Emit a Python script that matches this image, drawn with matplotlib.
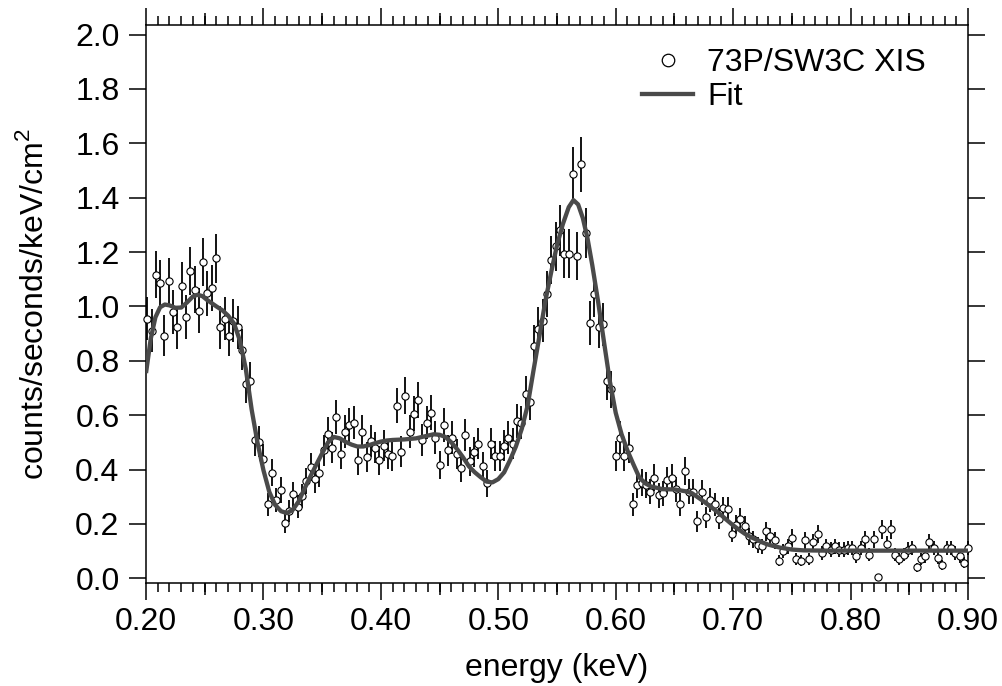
import matplotlib
matplotlib.use("Agg")
import matplotlib.pyplot as plt
from matplotlib import ticker
from matplotlib.lines import Line2D

plt.rcParams["font.family"] = ["Liberation Sans", "DejaVu Sans"]
plt.rcParams["mathtext.fontset"] = "custom"
plt.rcParams["mathtext.rm"] = "Liberation Sans"

# spectrum channels (keV)
energy = [
    0.2011, 0.2048, 0.2084, 0.2121, 0.2157, 0.2194, 0.2231, 0.2267,
    0.2304, 0.2340, 0.2377, 0.2414, 0.2450, 0.2487, 0.2523, 0.2560,
    0.2597, 0.2633, 0.2670, 0.2706, 0.2743, 0.2780, 0.2816, 0.2853,
    0.2889, 0.2926, 0.2963, 0.2999, 0.3036, 0.3072, 0.3109, 0.3146,
    0.3182, 0.3219, 0.3255, 0.3292, 0.3329, 0.3365, 0.3402, 0.3438,
    0.3475, 0.3512, 0.3548, 0.3585, 0.3621, 0.3658, 0.3695, 0.3731,
    0.3768, 0.3804, 0.3841, 0.3878, 0.3914, 0.3951, 0.3987, 0.4024,
    0.4061, 0.4097, 0.4134, 0.4170, 0.4207, 0.4244, 0.4280, 0.4317,
    0.4353, 0.4390, 0.4427, 0.4463, 0.4500, 0.4536, 0.4573, 0.4610,
    0.4646, 0.4683, 0.4719, 0.4756, 0.4793, 0.4829, 0.4866, 0.4902,
    0.4939, 0.4976, 0.5012, 0.5049, 0.5085, 0.5122, 0.5159, 0.5195,
    0.5232, 0.5268, 0.5305, 0.5342, 0.5378, 0.5415, 0.5451, 0.5488,
    0.5525, 0.5561, 0.5598, 0.5634, 0.5671, 0.5708, 0.5744, 0.5781,
    0.5817, 0.5854, 0.5891, 0.5927, 0.5964, 0.6000, 0.6037, 0.6074,
    0.6110, 0.6147, 0.6183, 0.6220, 0.6257, 0.6293, 0.6330, 0.6366,
    0.6403, 0.6440, 0.6476, 0.6513, 0.6549, 0.6586, 0.6623, 0.6659,
    0.6696, 0.6732, 0.6769, 0.6806, 0.6842, 0.6879, 0.6915, 0.6952,
    0.6989, 0.7025, 0.7062, 0.7098, 0.7135, 0.7172, 0.7208, 0.7245,
    0.7281, 0.7318, 0.7355, 0.7391, 0.7428, 0.7464, 0.7501, 0.7538,
    0.7574, 0.7611, 0.7647, 0.7684, 0.7721, 0.7757, 0.7794, 0.7830,
    0.7867, 0.7904, 0.7940, 0.7977, 0.8013, 0.8050, 0.8087, 0.8123,
    0.8160, 0.8196, 0.8233, 0.8270, 0.8306, 0.8343, 0.8379, 0.8416,
    0.8453, 0.8489, 0.8526, 0.8562, 0.8599, 0.8636, 0.8672, 0.8709,
    0.8745, 0.8782, 0.8819, 0.8855, 0.8892, 0.8928, 0.8965, 0.9002,
]

# counts/seconds/keV/cm^2
flux = [
    0.955, 0.911, 1.117, 1.086, 0.893, 1.093, 0.979, 0.924,
    1.077, 0.962, 1.130, 1.062, 0.985, 1.162, 1.048, 1.069,
    1.177, 0.924, 0.955, 0.893, 0.948, 0.924, 0.841, 0.715,
    0.725, 0.509, 0.503, 0.440, 0.272, 0.389, 0.287, 0.326,
    0.203, 0.247, 0.309, 0.263, 0.303, 0.358, 0.410, 0.364,
    0.386, 0.471, 0.532, 0.481, 0.594, 0.456, 0.540, 0.565,
    0.573, 0.434, 0.540, 0.448, 0.506, 0.481, 0.434, 0.487,
    0.456, 0.450, 0.635, 0.466, 0.672, 0.540, 0.605, 0.656,
    0.509, 0.573, 0.610, 0.518, 0.417, 0.565, 0.471, 0.518,
    0.456, 0.405, 0.527, 0.430, 0.465, 0.496, 0.413, 0.349,
    0.496, 0.450, 0.450, 0.487, 0.518, 0.496, 0.579, 0.573,
    0.678, 0.647, 0.856, 0.918, 0.948, 1.047, 1.170, 1.221,
    1.280, 1.194, 1.194, 1.486, 1.186, 1.523, 1.270, 0.940,
    1.047, 0.926, 0.934, 0.727, 0.696, 0.450, 0.518, 0.450,
    0.481, 0.272, 0.342, 0.352, 0.342, 0.318, 0.370, 0.305,
    0.313, 0.360, 0.370, 0.327, 0.272, 0.395, 0.318, 0.318,
    0.210, 0.317, 0.225, 0.288, 0.272, 0.219, 0.257, 0.256,
    0.165, 0.198, 0.219, 0.194, 0.155, 0.143, 0.124, 0.118,
    0.173, 0.155, 0.140, 0.065, 0.102, 0.118, 0.149, 0.073,
    0.065, 0.140, 0.073, 0.134, 0.163, 0.093, 0.118, 0.106,
    0.118, 0.106, 0.106, 0.112, 0.112, 0.081, 0.112, 0.143,
    0.087, 0.143, 0.004, 0.180, 0.127, 0.180, 0.087, 0.073,
    0.087, 0.106, 0.112, 0.041, 0.073, 0.081, 0.134, 0.112,
    0.075, 0.050, 0.112, 0.112, 0.093, 0.081, 0.057, 0.112,
]

flux_err = [
    0.080, 0.078, 0.087, 0.085, 0.077, 0.086, 0.081, 0.079,
    0.085, 0.080, 0.087, 0.085, 0.081, 0.088, 0.084, 0.085,
    0.089, 0.079, 0.080, 0.077, 0.080, 0.079, 0.075, 0.069,
    0.070, 0.058, 0.058, 0.054, 0.043, 0.051, 0.044, 0.047,
    0.037, 0.041, 0.046, 0.042, 0.045, 0.049, 0.052, 0.049,
    0.051, 0.056, 0.060, 0.057, 0.063, 0.055, 0.060, 0.062,
    0.062, 0.054, 0.060, 0.055, 0.058, 0.057, 0.054, 0.057,
    0.055, 0.055, 0.065, 0.056, 0.067, 0.060, 0.064, 0.066,
    0.058, 0.062, 0.064, 0.059, 0.053, 0.062, 0.056, 0.059,
    0.055, 0.052, 0.060, 0.054, 0.056, 0.058, 0.053, 0.048,
    0.058, 0.055, 0.055, 0.057, 0.059, 0.058, 0.062, 0.062,
    0.068, 0.066, 0.076, 0.079, 0.080, 0.084, 0.089, 0.091,
    0.093, 0.090, 0.090, 0.100, 0.089, 0.101, 0.092, 0.080,
    0.084, 0.079, 0.079, 0.070, 0.068, 0.055, 0.059, 0.055,
    0.057, 0.043, 0.048, 0.049, 0.048, 0.046, 0.050, 0.045,
    0.046, 0.049, 0.050, 0.047, 0.043, 0.052, 0.046, 0.046,
    0.038, 0.046, 0.039, 0.044, 0.043, 0.038, 0.042, 0.042,
    0.033, 0.036, 0.038, 0.036, 0.032, 0.031, 0.029, 0.028,
    0.034, 0.032, 0.031, 0.021, 0.026, 0.028, 0.032, 0.022,
    0.021, 0.031, 0.022, 0.030, 0.033, 0.025, 0.028, 0.027,
    0.028, 0.027, 0.027, 0.027, 0.027, 0.023, 0.027, 0.031,
    0.024, 0.031, 0.000, 0.035, 0.029, 0.035, 0.024, 0.022,
    0.024, 0.027, 0.027, 0.017, 0.022, 0.023, 0.030, 0.027,
    0.022, 0.018, 0.027, 0.027, 0.025, 0.023, 0.020, 0.027,
]

# model curve
fit_energy = [
    0.200, 0.204, 0.208, 0.212, 0.216, 0.220, 0.225, 0.230, 0.235, 0.240,
    0.244, 0.248, 0.252, 0.256, 0.260, 0.265, 0.270, 0.275, 0.280, 0.285,
    0.290, 0.295, 0.300, 0.305, 0.310, 0.315, 0.320, 0.325, 0.330, 0.335,
    0.340, 0.345, 0.350, 0.355, 0.360, 0.365, 0.370, 0.375, 0.380, 0.385,
    0.390, 0.395, 0.400, 0.405, 0.410, 0.420, 0.430, 0.440, 0.445, 0.450,
    0.455, 0.460, 0.465, 0.470, 0.475, 0.480, 0.485, 0.490, 0.495, 0.500,
    0.505, 0.510, 0.515, 0.520, 0.525, 0.530, 0.535, 0.540, 0.545, 0.550,
    0.555, 0.560, 0.564, 0.568, 0.572, 0.576, 0.580, 0.585, 0.590, 0.595,
    0.600, 0.605, 0.610, 0.615, 0.620, 0.625, 0.630, 0.640, 0.650, 0.660,
    0.665, 0.670, 0.675, 0.680, 0.685, 0.690, 0.695, 0.700, 0.705, 0.710,
    0.715, 0.720, 0.725, 0.730, 0.740, 0.750, 0.760, 0.780, 0.900,
]
fit_flux = [
    0.755, 0.880, 0.960, 0.997, 1.007, 1.004, 0.995, 0.996, 1.015, 1.037,
    1.043, 1.038, 1.024, 1.012, 1.000, 0.986, 0.966, 0.937, 0.874, 0.770,
    0.620, 0.498, 0.398, 0.318, 0.270, 0.247, 0.240, 0.252, 0.283, 0.330,
    0.375, 0.418, 0.460, 0.500, 0.520, 0.515, 0.502, 0.492, 0.485, 0.485,
    0.490, 0.497, 0.503, 0.507, 0.509, 0.511, 0.515, 0.525, 0.530, 0.528,
    0.520, 0.500, 0.475, 0.445, 0.412, 0.390, 0.372, 0.356, 0.353, 0.365,
    0.390, 0.435, 0.485, 0.550, 0.636, 0.765, 0.890, 1.018, 1.125, 1.225,
    1.303, 1.365, 1.391, 1.375, 1.325, 1.250, 1.153, 1.018, 0.870, 0.725,
    0.609, 0.530, 0.470, 0.420, 0.372, 0.350, 0.338, 0.328, 0.327, 0.320,
    0.313, 0.298, 0.283, 0.266, 0.250, 0.232, 0.213, 0.195, 0.179, 0.164,
    0.152, 0.142, 0.132, 0.124, 0.113, 0.106, 0.103, 0.102, 0.102,
]

x_major = [0.20, 0.30, 0.40, 0.50, 0.60, 0.70, 0.80, 0.90]
x_mid = [0.25, 0.35, 0.45, 0.55, 0.65, 0.75, 0.85]
y_major = [0.0, 0.2, 0.4, 0.6, 0.8, 1.0, 1.2, 1.4, 1.6, 1.8, 2.0]

fit_color = "#4a4a4a"
fs = 23

fig = plt.figure(figsize=(10.03, 6.86), dpi=100)
ax = fig.add_axes([146 / 1003, 1 - 583 / 686, 822 / 1003, 558 / 686])

# data with error bars, then the fit on top
ax.errorbar(energy, flux, yerr=flux_err, fmt="o", ms=5.2, mfc="white", mec="black",
            mew=0.8, ecolor="black", elinewidth=1.3, capsize=0, zorder=3, clip_on=False)
ax.plot(fit_energy, fit_flux, color=fit_color, lw=3.1, zorder=4, solid_capstyle="butt")

ax.set_xlim(0.2, 0.9)
ax.set_ylim(-0.017, 2.035)

ax.set_xticks(x_major)
ax.xaxis.set_major_formatter(ticker.FormatStrFormatter("%.2f"))
ax.xaxis.set_minor_locator(ticker.MultipleLocator(0.01))
ax.set_yticks(y_major)
ax.yaxis.set_major_formatter(ticker.FormatStrFormatter("%.1f"))

for side in ax.spines.values():
    side.set_linewidth(1.1)

ax.tick_params(which="major", direction="out", length=12, width=1.1,
               top=True, right=True, labelsize=fs, colors="black")
ax.tick_params(axis="x", which="major", pad=5)
ax.tick_params(axis="y", which="major", pad=7)
ax.tick_params(axis="x", which="minor", direction="out", length=6.5, width=1.1,
               top=True, bottom=True)

# middle ticks every 0.05 keV
for loc in ("bottom", "top"):
    sec = ax.secondary_xaxis(loc)
    sec.set_xticks(x_mid)
    sec.tick_params(direction="out", length=8.8, width=1.1,
                    labelbottom=False, labeltop=False)
    for side in sec.spines.values():
        side.set_visible(False)

ax.set_xlabel("energy (keV)", fontsize=fs)
ax.xaxis.set_label_coords(0.5, -0.125)
ax.set_ylabel("counts/seconds/keV/cm$^{2}$", fontsize=fs)
ax.yaxis.set_label_coords(-0.117, 0.5)

handles = [
    Line2D([], [], marker="o", ls="none", ms=9, mfc="white", mec="black", mew=0.9),
    Line2D([], [], color=fit_color, lw=3.1),
]
fig.legend(handles, ["73P/SW3C XIS", "Fit"], loc="upper left",
           bbox_to_anchor=(642 / 1003, 1 - 48 / 686), frameon=False, fontsize=fs,
           borderpad=0, borderaxespad=0, handlelength=1.6, handletextpad=0.45,
           labelspacing=0.12)

fig.savefig("out.png", dpi=100)
